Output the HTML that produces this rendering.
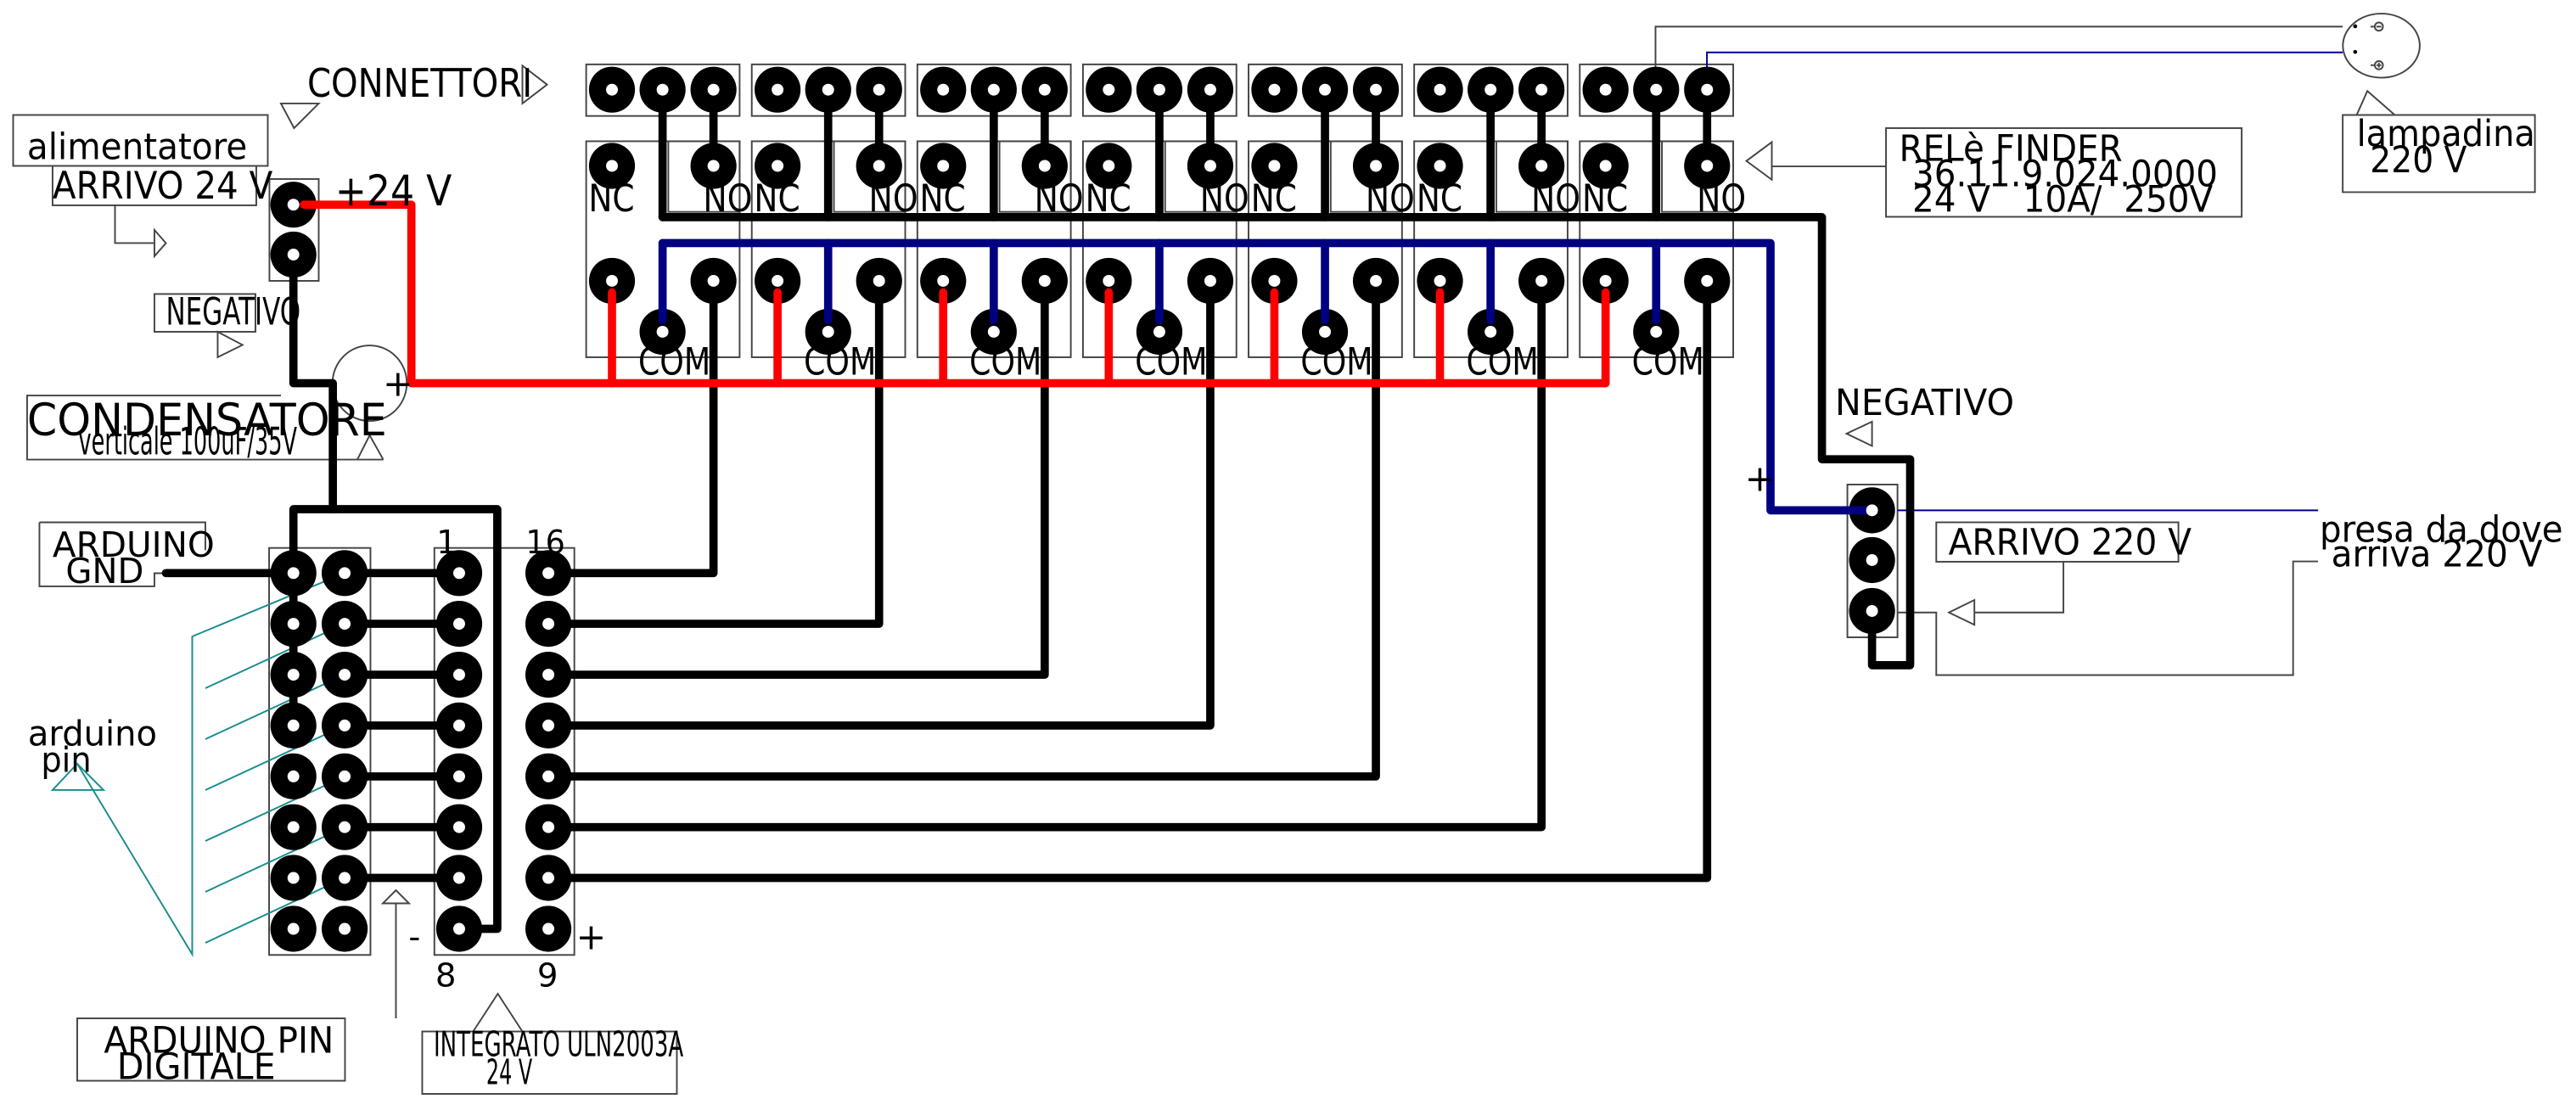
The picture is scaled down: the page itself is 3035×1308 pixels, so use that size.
<!DOCTYPE html>
<html><head><meta charset="utf-8"><style>
html,body{margin:0;padding:0;background:#fff;}
svg{display:block;}
text{font-family:"DejaVu Sans","Liberation Sans",sans-serif;fill:#000;}
</style></head><body>
<svg xmlns="http://www.w3.org/2000/svg" width="3035" height="1308" viewBox="0 0 1568 675.8" preserveAspectRatio="none">
<rect width="1568" height="676" fill="#fff"/>
<g fill="none" stroke="#444" stroke-width="1">
<rect x="356.8" y="39.2" width="93.4" height="31.4"/><rect x="356.8" y="86" width="93.4" height="131.5"/><rect x="406.8" y="86" width="43.4" height="43"/>
<rect x="457.6" y="39.2" width="93.4" height="31.4"/><rect x="457.6" y="86" width="93.4" height="131.5"/><rect x="507.6" y="86" width="43.4" height="43"/>
<rect x="558.4" y="39.2" width="93.4" height="31.4"/><rect x="558.4" y="86" width="93.4" height="131.5"/><rect x="608.4" y="86" width="43.4" height="43"/>
<rect x="659.2" y="39.2" width="93.4" height="31.4"/><rect x="659.2" y="86" width="93.4" height="131.5"/><rect x="709.2" y="86" width="43.4" height="43"/>
<rect x="760" y="39.2" width="93.4" height="31.4"/><rect x="760" y="86" width="93.4" height="131.5"/><rect x="810" y="86" width="43.4" height="43"/>
<rect x="860.8" y="39.2" width="93.4" height="31.4"/><rect x="860.8" y="86" width="93.4" height="131.5"/><rect x="910.8" y="86" width="43.4" height="43"/>
<rect x="961.6" y="39.2" width="93.4" height="31.4"/><rect x="961.6" y="86" width="93.4" height="131.5"/><rect x="1011.6" y="86" width="43.4" height="43"/>
<rect x="164" y="109" width="30" height="62"/>
<rect x="163.8" y="333.6" width="61.7" height="247.8"/>
<rect x="264.4" y="333.6" width="85.2" height="247.8"/>
<rect x="1124.5" y="295" width="30.5" height="93"/>
<rect x="8" y="70" width="155" height="31"/>
<rect x="32" y="101" width="124" height="24"/>
<rect x="94" y="179" width="61.5" height="23"/>
<path d="M171 240.8 H16.5 V279.8 H233.3"/>
<rect x="1148" y="78" width="216.5" height="54"/>
<path d="M1426 70 H1543 V117 H1426 Z"/>
<rect x="1178.6" y="318" width="147.4" height="24"/>
<path d="M24 318 H125 V335 M24 318 V357 H94 V349 H101"/>
<rect x="47" y="620" width="163" height="38"/>
<rect x="257" y="628" width="155" height="38"/>
<path d="M70 125 V148 H94"/><path d="M94 140 L101 148 L94 156 Z"/>
<path d="M318 40 L333 51.5 L318 63 Z"/>
<path d="M171 63 L194 63 L179 78 Z"/>
<path d="M132.5 202 L147.6 210 L132.5 217.5 Z"/>
<path d="M217.5 279.8 L225 265 L233.3 279.8"/>
<ellipse cx="225" cy="233.3" rx="22.6" ry="23"/>
<path d="M1148 101.3 H1078.5"/><path d="M1063 98 L1078.5 86.5 L1078.5 109.4 Z"/>
<path d="M1124 264 L1139.5 256.7 L1139.5 271.5 Z"/>
<path d="M1256 342 V372.9 H1201.8"/><path d="M1186.3 372.9 L1201.8 365.3 L1201.8 380.4 Z"/>
<path d="M1155 372.9 H1178.6 V411 H1395.8 V341.8 H1411"/>
<path d="M1434.5 70 L1441 55.4 L1457.7 70"/>
<ellipse cx="1449.5" cy="27.8" rx="23.4" ry="19.5"/>
<circle cx="1448" cy="16.2" r="2.5"/><circle cx="1448" cy="39.7" r="2.5"/>
<path d="M1446.5 16.2 H1449.5 M1446.5 39.7 H1449.5 M1448 38.2 V41.2 M1443 16.2 H1445 M1443 39.7 H1445"/>
<path d="M1007.7 54.6 V16.2 H1426"/>
<path d="M241 620 V550"/><path d="M233 550 L241 542 L249 550 Z"/>
<path d="M288 628 L303 605 L318 628"/>
</g>
<circle cx="1433.6" cy="16" r="1.2" fill="#000"/><circle cx="1433.6" cy="31.6" r="1.2" fill="#000"/>
<path d="M1039 54.6 V31.9 H1426 M1155 310.7 H1411" fill="none" stroke="#00008b" stroke-width="1"/>
<g fill="none" stroke="#188c8c" stroke-width="1">
<path d="M209.8 348.9 L117 387.5 V581 L47 465"/>
<path d="M209.8 379.8 L125 419"/><path d="M209.8 410.8 L125 450"/><path d="M209.8 441.7 L125 481"/>
<path d="M209.8 472.7 L125 512"/><path d="M209.8 503.6 L125 543"/><path d="M209.8 534.5 L125 574"/>
<path d="M32 481 L63 481 L47 465 Z"/>
</g>
<g fill="#000">
<circle cx="372.5" cy="54.6" r="14"/><circle cx="403.3" cy="54.6" r="14"/><circle cx="434.3" cy="54.6" r="14"/><circle cx="372.5" cy="101" r="14"/><circle cx="434.3" cy="101" r="14"/><circle cx="372.5" cy="171" r="14"/><circle cx="434.3" cy="171" r="14"/><circle cx="403.3" cy="202" r="14"/>
<circle cx="473.3" cy="54.6" r="14"/><circle cx="504.1" cy="54.6" r="14"/><circle cx="535.1" cy="54.6" r="14"/><circle cx="473.3" cy="101" r="14"/><circle cx="535.1" cy="101" r="14"/><circle cx="473.3" cy="171" r="14"/><circle cx="535.1" cy="171" r="14"/><circle cx="504.1" cy="202" r="14"/>
<circle cx="574.1" cy="54.6" r="14"/><circle cx="604.9" cy="54.6" r="14"/><circle cx="635.9" cy="54.6" r="14"/><circle cx="574.1" cy="101" r="14"/><circle cx="635.9" cy="101" r="14"/><circle cx="574.1" cy="171" r="14"/><circle cx="635.9" cy="171" r="14"/><circle cx="604.9" cy="202" r="14"/>
<circle cx="674.9" cy="54.6" r="14"/><circle cx="705.7" cy="54.6" r="14"/><circle cx="736.7" cy="54.6" r="14"/><circle cx="674.9" cy="101" r="14"/><circle cx="736.7" cy="101" r="14"/><circle cx="674.9" cy="171" r="14"/><circle cx="736.7" cy="171" r="14"/><circle cx="705.7" cy="202" r="14"/>
<circle cx="775.7" cy="54.6" r="14"/><circle cx="806.5" cy="54.6" r="14"/><circle cx="837.5" cy="54.6" r="14"/><circle cx="775.7" cy="101" r="14"/><circle cx="837.5" cy="101" r="14"/><circle cx="775.7" cy="171" r="14"/><circle cx="837.5" cy="171" r="14"/><circle cx="806.5" cy="202" r="14"/>
<circle cx="876.5" cy="54.6" r="14"/><circle cx="907.3" cy="54.6" r="14"/><circle cx="938.3" cy="54.6" r="14"/><circle cx="876.5" cy="101" r="14"/><circle cx="938.3" cy="101" r="14"/><circle cx="876.5" cy="171" r="14"/><circle cx="938.3" cy="171" r="14"/><circle cx="907.3" cy="202" r="14"/>
<circle cx="977.3" cy="54.6" r="14"/><circle cx="1008.1" cy="54.6" r="14"/><circle cx="1039.1" cy="54.6" r="14"/><circle cx="977.3" cy="101" r="14"/><circle cx="1039.1" cy="101" r="14"/><circle cx="977.3" cy="171" r="14"/><circle cx="1039.1" cy="171" r="14"/><circle cx="1008.1" cy="202" r="14"/>
<circle cx="178.6" cy="124.6" r="14"/><circle cx="178.6" cy="155" r="14"/>
<circle cx="1139.5" cy="310.7" r="14"/><circle cx="1139.5" cy="341" r="14"/><circle cx="1139.5" cy="372" r="14"/>
</g>
<g fill="#000">
<circle cx="178.6" cy="348.9" r="14"/><circle cx="209.8" cy="348.9" r="14"/><circle cx="279.5" cy="348.9" r="14"/><circle cx="333.8" cy="348.9" r="14"/>
<circle cx="178.6" cy="379.8" r="14"/><circle cx="209.8" cy="379.8" r="14"/><circle cx="279.5" cy="379.8" r="14"/><circle cx="333.8" cy="379.8" r="14"/>
<circle cx="178.6" cy="410.8" r="14"/><circle cx="209.8" cy="410.8" r="14"/><circle cx="279.5" cy="410.8" r="14"/><circle cx="333.8" cy="410.8" r="14"/>
<circle cx="178.6" cy="441.7" r="14"/><circle cx="209.8" cy="441.7" r="14"/><circle cx="279.5" cy="441.7" r="14"/><circle cx="333.8" cy="441.7" r="14"/>
<circle cx="178.6" cy="472.7" r="14"/><circle cx="209.8" cy="472.7" r="14"/><circle cx="279.5" cy="472.7" r="14"/><circle cx="333.8" cy="472.7" r="14"/>
<circle cx="178.6" cy="503.6" r="14"/><circle cx="209.8" cy="503.6" r="14"/><circle cx="279.5" cy="503.6" r="14"/><circle cx="333.8" cy="503.6" r="14"/>
<circle cx="178.6" cy="534.5" r="14"/><circle cx="209.8" cy="534.5" r="14"/><circle cx="279.5" cy="534.5" r="14"/><circle cx="333.8" cy="534.5" r="14"/>
<circle cx="178.6" cy="565.5" r="14"/><circle cx="209.8" cy="565.5" r="14"/><circle cx="279.5" cy="565.5" r="14"/><circle cx="333.8" cy="565.5" r="14"/>
</g>
<g fill="none" stroke="#000" stroke-width="5" stroke-linecap="round" stroke-linejoin="round">
<path d="M403.3 54.6 V132.2 M434.3 54.6 V101 M504.1 54.6 V132.2 M535.1 54.6 V101 M604.9 54.6 V132.2 M635.9 54.6 V101 M705.7 54.6 V132.2 M736.7 54.6 V101 M806.5 54.6 V132.2 M837.5 54.6 V101 M907.3 54.6 V132.2 M938.3 54.6 V101 M1008.1 54.6 V132.2 M1039.1 54.6 V101"/>
<path d="M403.3 132.2 H1109 V279.6 H1162.7 V405 H1139.5 V372"/>
<path d="M434.3 171 V348.9 H333.8 M535.1 171 V379.8 H333.8 M635.9 171 V410.8 H333.8 M736.7 171 V441.7 H333.8 M837.5 171 V472.7 H333.8 M938.3 171 V503.6 H333.8 M1039.1 171 V534.5 H333.8"/>
<path d="M178.6 155 V233.3 H202.6 V310"/>
<path d="M178.6 348.9 V310 H302.7 V565.5 H279.5"/>
<path d="M178.6 348.9 V441.7"/>
<path d="M101 348.9 H178.6"/>
<path d="M209.8 348.9 H279.5 M209.8 379.8 H279.5 M209.8 410.8 H279.5 M209.8 441.7 H279.5 M209.8 472.7 H279.5 M209.8 503.6 H279.5 M209.8 534.5 H279.5"/>
</g>
<g fill="none" stroke="#000080" stroke-width="5" stroke-linecap="round" stroke-linejoin="round">
<path d="M403.3 148 H1077.7 V310.7 H1139.5"/>
<path d="M403.3 148 V195 M504.1 148 V195 M604.9 148 V195 M705.7 148 V195 M806.5 148 V195 M907.3 148 V195 M1008.1 148 V195"/>
</g>
<g fill="none" stroke="#f00" stroke-width="5" stroke-linecap="round" stroke-linejoin="round">
<path d="M185 124.6 H250.4 V233.3 H977.3"/>
<path d="M372.5 178 V233.3 M473.3 178 V233.3 M574.1 178 V233.3 M674.9 178 V233.3 M775.7 178 V233.3 M876.5 178 V233.3 M977.3 178 V233.3"/>
</g>
<g fill="#fff">
<circle cx="372.5" cy="54.6" r="3.6"/><circle cx="403.3" cy="54.6" r="3.6"/><circle cx="434.3" cy="54.6" r="3.6"/><circle cx="372.5" cy="101" r="3.6"/><circle cx="434.3" cy="101" r="3.6"/><circle cx="372.5" cy="171" r="3.6"/><circle cx="434.3" cy="171" r="3.6"/><circle cx="403.3" cy="202" r="3.6"/>
<circle cx="473.3" cy="54.6" r="3.6"/><circle cx="504.1" cy="54.6" r="3.6"/><circle cx="535.1" cy="54.6" r="3.6"/><circle cx="473.3" cy="101" r="3.6"/><circle cx="535.1" cy="101" r="3.6"/><circle cx="473.3" cy="171" r="3.6"/><circle cx="535.1" cy="171" r="3.6"/><circle cx="504.1" cy="202" r="3.6"/>
<circle cx="574.1" cy="54.6" r="3.6"/><circle cx="604.9" cy="54.6" r="3.6"/><circle cx="635.9" cy="54.6" r="3.6"/><circle cx="574.1" cy="101" r="3.6"/><circle cx="635.9" cy="101" r="3.6"/><circle cx="574.1" cy="171" r="3.6"/><circle cx="635.9" cy="171" r="3.6"/><circle cx="604.9" cy="202" r="3.6"/>
<circle cx="674.9" cy="54.6" r="3.6"/><circle cx="705.7" cy="54.6" r="3.6"/><circle cx="736.7" cy="54.6" r="3.6"/><circle cx="674.9" cy="101" r="3.6"/><circle cx="736.7" cy="101" r="3.6"/><circle cx="674.9" cy="171" r="3.6"/><circle cx="736.7" cy="171" r="3.6"/><circle cx="705.7" cy="202" r="3.6"/>
<circle cx="775.7" cy="54.6" r="3.6"/><circle cx="806.5" cy="54.6" r="3.6"/><circle cx="837.5" cy="54.6" r="3.6"/><circle cx="775.7" cy="101" r="3.6"/><circle cx="837.5" cy="101" r="3.6"/><circle cx="775.7" cy="171" r="3.6"/><circle cx="837.5" cy="171" r="3.6"/><circle cx="806.5" cy="202" r="3.6"/>
<circle cx="876.5" cy="54.6" r="3.6"/><circle cx="907.3" cy="54.6" r="3.6"/><circle cx="938.3" cy="54.6" r="3.6"/><circle cx="876.5" cy="101" r="3.6"/><circle cx="938.3" cy="101" r="3.6"/><circle cx="876.5" cy="171" r="3.6"/><circle cx="938.3" cy="171" r="3.6"/><circle cx="907.3" cy="202" r="3.6"/>
<circle cx="977.3" cy="54.6" r="3.6"/><circle cx="1008.1" cy="54.6" r="3.6"/><circle cx="1039.1" cy="54.6" r="3.6"/><circle cx="977.3" cy="101" r="3.6"/><circle cx="1039.1" cy="101" r="3.6"/><circle cx="977.3" cy="171" r="3.6"/><circle cx="1039.1" cy="171" r="3.6"/><circle cx="1008.1" cy="202" r="3.6"/>
<circle cx="178.6" cy="124.6" r="3.6"/><circle cx="178.6" cy="155" r="3.6"/>
<circle cx="1139.5" cy="310.7" r="3.6"/><circle cx="1139.5" cy="341" r="3.6"/><circle cx="1139.5" cy="372" r="3.6"/>
<circle cx="178.6" cy="348.9" r="3.6"/><circle cx="209.8" cy="348.9" r="3.6"/><circle cx="279.5" cy="348.9" r="3.6"/><circle cx="333.8" cy="348.9" r="3.6"/>
<circle cx="178.6" cy="379.8" r="3.6"/><circle cx="209.8" cy="379.8" r="3.6"/><circle cx="279.5" cy="379.8" r="3.6"/><circle cx="333.8" cy="379.8" r="3.6"/>
<circle cx="178.6" cy="410.8" r="3.6"/><circle cx="209.8" cy="410.8" r="3.6"/><circle cx="279.5" cy="410.8" r="3.6"/><circle cx="333.8" cy="410.8" r="3.6"/>
<circle cx="178.6" cy="441.7" r="3.6"/><circle cx="209.8" cy="441.7" r="3.6"/><circle cx="279.5" cy="441.7" r="3.6"/><circle cx="333.8" cy="441.7" r="3.6"/>
<circle cx="178.6" cy="472.7" r="3.6"/><circle cx="209.8" cy="472.7" r="3.6"/><circle cx="279.5" cy="472.7" r="3.6"/><circle cx="333.8" cy="472.7" r="3.6"/>
<circle cx="178.6" cy="503.6" r="3.6"/><circle cx="209.8" cy="503.6" r="3.6"/><circle cx="279.5" cy="503.6" r="3.6"/><circle cx="333.8" cy="503.6" r="3.6"/>
<circle cx="178.6" cy="534.5" r="3.6"/><circle cx="209.8" cy="534.5" r="3.6"/><circle cx="279.5" cy="534.5" r="3.6"/><circle cx="333.8" cy="534.5" r="3.6"/>
<circle cx="178.6" cy="565.5" r="3.6"/><circle cx="209.8" cy="565.5" r="3.6"/><circle cx="279.5" cy="565.5" r="3.6"/><circle cx="333.8" cy="565.5" r="3.6"/>
</g>
<g font-size="23">
<text x="358.2" y="128.6" textLength="28" lengthAdjust="spacingAndGlyphs">NC</text><text x="428" y="128.6" textLength="30" lengthAdjust="spacingAndGlyphs">NO</text><text x="388.5" y="228" textLength="44" lengthAdjust="spacingAndGlyphs">COM</text>
<text x="459" y="128.6" textLength="28" lengthAdjust="spacingAndGlyphs">NC</text><text x="528.8" y="128.6" textLength="30" lengthAdjust="spacingAndGlyphs">NO</text><text x="489.3" y="228" textLength="44" lengthAdjust="spacingAndGlyphs">COM</text>
<text x="559.8" y="128.6" textLength="28" lengthAdjust="spacingAndGlyphs">NC</text><text x="629.6" y="128.6" textLength="30" lengthAdjust="spacingAndGlyphs">NO</text><text x="590.1" y="228" textLength="44" lengthAdjust="spacingAndGlyphs">COM</text>
<text x="660.6" y="128.6" textLength="28" lengthAdjust="spacingAndGlyphs">NC</text><text x="730.4" y="128.6" textLength="30" lengthAdjust="spacingAndGlyphs">NO</text><text x="690.9" y="228" textLength="44" lengthAdjust="spacingAndGlyphs">COM</text>
<text x="761.4" y="128.6" textLength="28" lengthAdjust="spacingAndGlyphs">NC</text><text x="831.2" y="128.6" textLength="30" lengthAdjust="spacingAndGlyphs">NO</text><text x="791.7" y="228" textLength="44" lengthAdjust="spacingAndGlyphs">COM</text>
<text x="862.2" y="128.6" textLength="28" lengthAdjust="spacingAndGlyphs">NC</text><text x="932" y="128.6" textLength="30" lengthAdjust="spacingAndGlyphs">NO</text><text x="892.5" y="228" textLength="44" lengthAdjust="spacingAndGlyphs">COM</text>
<text x="963" y="128.6" textLength="28" lengthAdjust="spacingAndGlyphs">NC</text><text x="1032.8" y="128.6" textLength="30" lengthAdjust="spacingAndGlyphs">NO</text><text x="993.3" y="228" textLength="44" lengthAdjust="spacingAndGlyphs">COM</text>
</g>
<g>
<text x="187" y="59" font-size="24" textLength="137" lengthAdjust="spacingAndGlyphs">CONNETTORI</text>
<text x="16.5" y="97" font-size="22" textLength="134" lengthAdjust="spacingAndGlyphs">alimentatore</text>
<text x="32" y="121" font-size="23" textLength="134" lengthAdjust="spacingAndGlyphs">ARRIVO 24 V</text>
<text x="204" y="125" font-size="26" textLength="71" lengthAdjust="spacingAndGlyphs">+24 V</text>
<text x="101" y="197.7" font-size="23" textLength="82" lengthAdjust="spacingAndGlyphs">NEGATIVO</text>
<text x="233" y="241" font-size="22">+</text>
<text x="16.5" y="265" font-size="27" textLength="219" lengthAdjust="spacingAndGlyphs">CONDENSATORE</text>
<text x="47.8" y="276.8" font-size="23" textLength="133" lengthAdjust="spacingAndGlyphs">verticale 100uF/35V</text>
<text x="1156" y="97.8" font-size="22" textLength="136" lengthAdjust="spacingAndGlyphs">RELè FINDER</text>
<text x="1164" y="113.5" font-size="22" textLength="186" lengthAdjust="spacingAndGlyphs">36.11.9.024.0000</text>
<text x="1164" y="129" font-size="22" textLength="183" lengthAdjust="spacingAndGlyphs" xml:space="preserve">24 V   10A/  250V</text>
<text x="1434.5" y="89" font-size="22" textLength="108.6" lengthAdjust="spacingAndGlyphs">lampadina</text>
<text x="1442.6" y="104.8" font-size="22" textLength="59" lengthAdjust="spacingAndGlyphs">220 V</text>
<text x="1117" y="252.6" font-size="22" textLength="109" lengthAdjust="spacingAndGlyphs">NEGATIVO</text>
<text x="1062" y="299" font-size="22">+</text>
<text x="1186" y="337.7" font-size="22" textLength="148" lengthAdjust="spacingAndGlyphs">ARRIVO 220 V</text>
<text x="1412" y="330" font-size="22" textLength="148" lengthAdjust="spacingAndGlyphs">presa da dove</text>
<text x="1419" y="345" font-size="22" textLength="128.6" lengthAdjust="spacingAndGlyphs">arriva 220 V</text>
<text x="32" y="339" font-size="21" textLength="98.6" lengthAdjust="spacingAndGlyphs">ARDUINO</text>
<text x="40" y="355" font-size="21" textLength="47.5" lengthAdjust="spacingAndGlyphs">GND</text>
<text x="17" y="454" font-size="21" textLength="78.6" lengthAdjust="spacingAndGlyphs">arduino</text>
<text x="25" y="470" font-size="21" textLength="30.6" lengthAdjust="spacingAndGlyphs">pin</text>
<text x="265.6" y="337" font-size="20">1</text>
<text x="320" y="337" font-size="20" textLength="24" lengthAdjust="spacingAndGlyphs">16</text>
<text x="248.7" y="577" font-size="20">-</text>
<text x="350.6" y="578" font-size="22">+</text>
<text x="265" y="600.6" font-size="20">8</text>
<text x="327" y="600.6" font-size="20">9</text>
<text x="63.2" y="641" font-size="22" textLength="140" lengthAdjust="spacingAndGlyphs">ARDUINO PIN</text>
<text x="71.2" y="657" font-size="22" textLength="96.5" lengthAdjust="spacingAndGlyphs">DIGITALE</text>
<text x="264" y="643" font-size="21" textLength="152" lengthAdjust="spacingAndGlyphs">INTEGRATO ULN2003A</text>
<text x="296" y="660" font-size="21" textLength="28" lengthAdjust="spacingAndGlyphs">24 V</text>
</g>
</svg>
</body></html>
